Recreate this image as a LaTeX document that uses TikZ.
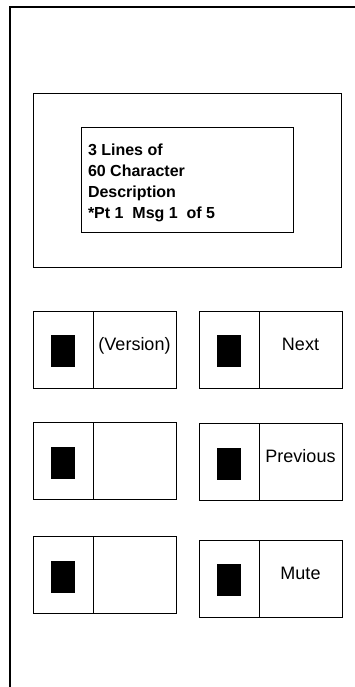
\documentclass[tikz,border=0pt]{standalone}
\usepackage{fontspec}
\setmainfont{Liberation Sans}
\usetikzlibrary{positioning}

\begin{document}
\begin{tikzpicture}[x=1pt,y=-1pt,line width=1pt]
  \tikzstyle{every node}=[outer sep=0pt,inner sep=0pt]
  \tikzstyle{softkey}=[draw,minimum width=60pt,minimum height=77pt]
  \tikzstyle{softlabel}=[draw,minimum width=83pt,minimum height=77pt,font=\fontsize{18}{21}\selectfont,text height=13pt,text depth=12pt]
  \tikzstyle{lamp}=[fill=black,minimum width=24pt,minimum height=32pt,yshift=-1.5pt]

  \clip (0,0) rectangle (355,687);
  \node[draw,line width=1.4pt,minimum width=360pt,minimum height=700pt,anchor=north west] (case) at (10,7) {};

  \node[draw,minimum width=308pt,minimum height=173pt] (display) at (187,180.5) {};
  \node[draw,minimum width=212pt,minimum height=104pt] (screen) at (187,180) {};
  \node[align=left,font=\fontsize{16}{21}\selectfont\bfseries,below right=16pt and 7pt of screen.north west] (msg)
    {3 Lines of\\60 Character\\Description\\*Pt 1\ \ Msg 1\ \ of 5};

  \node[softkey]               (k1) at (63,349.5) {};
  \node[softlabel,right=0pt of k1] (l1) {(Version)};
  \node[lamp]                  (p1) at (k1) {};
  \node[softkey]               (k2) at (229,349.5) {};
  \node[softlabel,right=0pt of k2] (l2) {Next};
  \node[lamp]                  (p2) at (k2) {};

  \node[softkey]               (k3) at (63,461) {};
  \node[softlabel,right=0pt of k3] (l3) {};
  \node[lamp]                  (p3) at (k3) {};
  \node[softkey]               (k4) at (229,462) {};
  \node[softlabel,right=0pt of k4] (l4) {Previous};
  \node[lamp]                  (p4) at (k4) {};

  \node[softkey]               (k5) at (63,575) {};
  \node[softlabel,right=0pt of k5] (l5) {};
  \node[lamp]                  (p5) at (k5) {};
  \node[softkey]               (k6) at (229,578.5) {};
  \node[softlabel,right=0pt of k6] (l6) {Mute};
  \node[lamp]                  (p6) at (k6) {};
\end{tikzpicture}
\end{document}
